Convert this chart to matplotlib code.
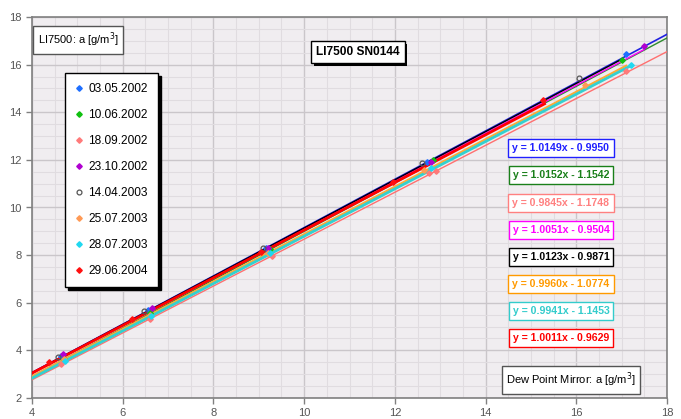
import matplotlib
matplotlib.use("Agg")
import matplotlib.pyplot as plt
import numpy as np
from matplotlib import patheffects as pe

plt.rcParams['font.family'] = ['Liberation Sans', 'DejaVu Sans']

labels = ["03.05.2002", "10.06.2002", "18.09.2002", "23.10.2002",
          "14.04.2003", "25.07.2003", "28.07.2003", "29.06.2004"]
slopes = [1.0149, 1.0152, 0.9845, 1.0051, 1.0123, 0.9960, 0.9941, 1.0011]
intercepts = [-0.9950, -1.1542, -1.1748, -0.9504, -0.9871, -1.0774, -1.1453, -0.9629]
eq_texts = ["y = 1.0149x - 0.9950", "y = 1.0152x - 1.1542", "y = 0.9845x - 1.1748",
            "y = 1.0051x - 0.9504", "y = 1.0123x - 0.9871", "y = 0.9960x - 1.0774",
            "y = 0.9941x - 1.1453", "y = 1.0011x - 0.9629"]
line_start = [4, 4, 4, 4, 4, 4, 4, 4]
line_end = [18, 18, 18, 17.5, 17.0, 17.1, 17.2, 15.3]

x_pts = [
    [4.65, 6.55, 9.15, 12.7, 17.1],
    [4.7, 6.6, 9.25, 12.85, 17.0],
    [4.65, 6.6, 9.3, 12.75, 12.9, 17.1],
    [4.68, 6.65, 9.2, 12.8, 17.5],
    [4.57, 6.48, 9.1, 12.6, 16.05],
    [4.7, 6.6, 9.2, 12.65, 16.2],
    [4.72, 6.62, 9.25, 12.8, 17.2],
    [4.38, 6.2, 9.05, 11.97, 15.27],
]
y_pts = [
    [3.78, 5.70, 8.30, 11.90, 16.45],
    [3.62, 5.55, 8.25, 12.0, 16.2],
    [3.42, 5.33, 7.95, 11.45, 11.52, 15.75],
    [3.85, 5.78, 8.32, 11.9, 16.8],
    [3.72, 5.64, 8.28, 11.85, 15.42],
    [3.62, 5.5, 8.1, 11.58, 15.15],
    [3.56, 5.45, 8.07, 11.65, 15.97],
    [3.5, 5.3, 8.15, 11.06, 14.5],
]

x_ticks = [4, 6, 8, 10, 12, 14, 16, 18]
y_ticks = [2, 4, 6, 8, 10, 12, 14, 16, 18]

line_colors = ['#2020e0', '#2e8b2e', '#ff7070', '#ff00ff', '#000000', '#ffaa33', '#33d0d0', '#ff0000']
line_widths = [1.2, 1.0, 1.0, 1.0, 1.0, 1.5, 2.0, 2.0]
marker_colors = ['#1e6fff', '#10c010', '#ff7a7a', '#b000d0', '#555555', '#ff9a55', '#20d8f0', '#ff1010']
marker_shapes = ['D', 'D', 'D', 'D', 'o', 'D', 'D', 'D']
eq_colors = ['#2020ff', '#1a801a', '#ff8080', '#ff00ff', '#000000', '#ff9a00', '#33cccc', '#ff0000']

W, H = 681, 419
fig = plt.figure(figsize=(W / 100, H / 100), dpi=100)
fig.patch.set_facecolor('white')

def fx(px):
    return px / W

def fy(py):
    return 1 - py / H

ax = fig.add_axes([fx(32), fy(398), fx(667) - fx(32), fy(17) - fy(398)])
ax.set_facecolor('#f0edf0')
ax.set_xlim(4, 18)
ax.set_ylim(2, 18)
ax.set_xticks(x_ticks)
ax.set_yticks(y_ticks)
ax.set_xticks(np.arange(4, 18.01, 0.5), minor=True)
ax.set_yticks(np.arange(2, 18.01, 0.5), minor=True)
ax.grid(which='minor', color='#e0dce0', lw=0.8)
ax.grid(which='major', color='#cac6ca', lw=1.0)
ax.set_axisbelow(True)
ax.tick_params(which='minor', length=0)
ax.tick_params(which='major', length=4, color='#808080', labelsize=8,
               labelcolor='#555555', width=1)
for s in ax.spines.values():
    s.set_color('#808080')
    s.set_linewidth(1.2)

for i in range(len(labels)):
    xs = np.array([line_start[i], line_end[i]])
    ax.plot(xs, slopes[i] * xs + intercepts[i], color=line_colors[i],
            lw=line_widths[i], zorder=3)

for i in range(len(labels)):
    if marker_shapes[i] == 'o':
        ax.plot(x_pts[i], y_pts[i], ls='none', marker='o', ms=3.5,
                mfc='none', mec=marker_colors[i], mew=0.9, label=labels[i], zorder=4)
    else:
        ax.plot(x_pts[i], y_pts[i], ls='none', marker='D', ms=2.8,
                mfc=marker_colors[i], mec=marker_colors[i], label=labels[i], zorder=4)

leg = ax.legend(loc='upper left', bbox_to_anchor=(fx(65), fy(73)),
                bbox_transform=fig.transFigure, frameon=True, fancybox=False,
                shadow={'color': 'black', 'alpha': 1.0}, prop={'size': 8.6},
                labelspacing=1.17, handlelength=0.6, handletextpad=0.5,
                borderpad=0.85, borderaxespad=0, markerscale=1.0)
leg.get_frame().set_edgecolor('black')
leg.get_frame().set_linewidth(1.0)
leg.get_frame().set_facecolor('white')

# equation boxes
eq_y = [148, 175, 203, 230, 257, 284, 311, 338]
for i in range(len(labels)):
    ax.text(fx(561), fy(eq_y[i]), eq_texts[i], transform=fig.transFigure,
            color=eq_colors[i], fontsize=7.6, fontweight='bold', va='center', ha='center',
            bbox=dict(boxstyle='square,pad=0.38', fc='white', ec=eq_colors[i], lw=1.0),
            zorder=6)

t = ax.text(fx(358), fy(52), 'LI7500 SN0144', transform=fig.transFigure, fontsize=8.6,
            fontweight='bold', ha='center', va='center', color='black',
            bbox=dict(boxstyle='square,pad=0.4', fc='white', ec='black', lw=1), zorder=7)
t.get_bbox_patch().set_path_effects([
    pe.SimplePatchShadow(offset=(2, -2), shadow_rgbFace='black', alpha=1.0),
    pe.Normal()])

ax.text(fx(78), fy(40), 'LI7500: a [g/m$^3$]', transform=fig.transFigure,
        fontsize=8, ha='center', va='center',
        bbox=dict(boxstyle='square,pad=0.4', fc='white', ec='#555555', lw=1), zorder=7)
ax.text(fx(571), fy(380), 'Dew Point Mirror: a [g/m$^3$]', transform=fig.transFigure,
        fontsize=8, ha='center', va='center',
        bbox=dict(boxstyle='square,pad=0.4', fc='white', ec='#555555', lw=1), zorder=7)

fig.savefig('out.png', dpi=100)
